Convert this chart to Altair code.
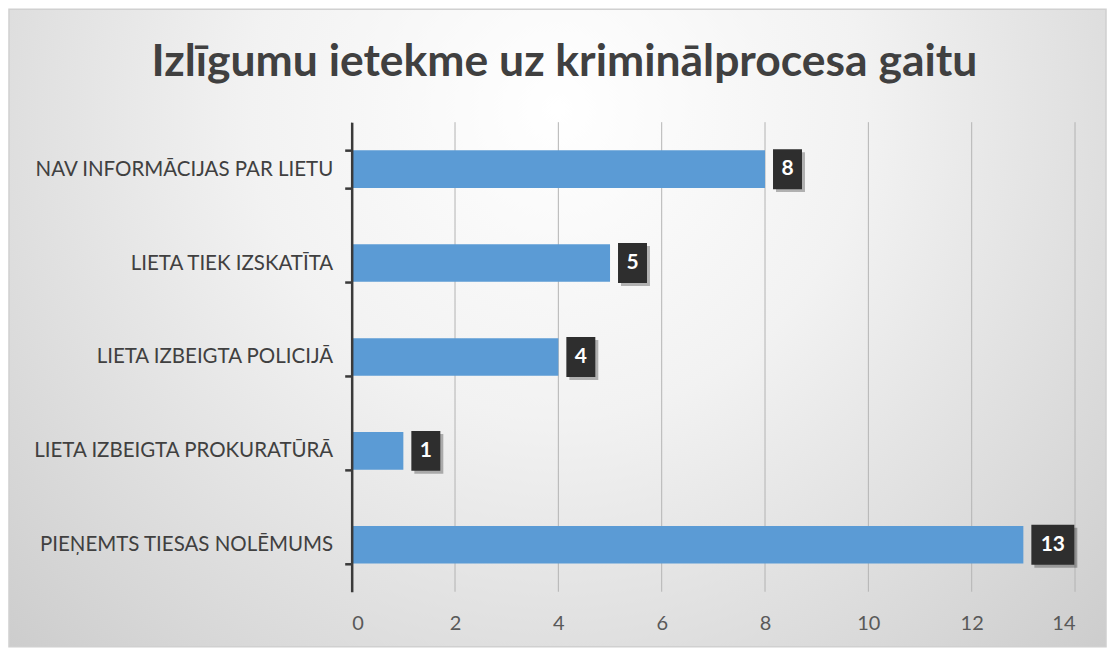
import altair as alt
import pandas as pd

# ---- data ----
categories = [
    "NAV INFORMĀCIJAS PAR LIETU",
    "LIETA TIEK IZSKATĪTA",
    "LIETA IZBEIGTA POLICIJĀ",
    "LIETA IZBEIGTA PROKURATŪRĀ",
    "PIEŅEMTS TIESAS NOLĒMUMS",
]
values = [8, 5, 4, 1, 13]
x_ticks = [0, 2, 4, 6, 8, 10, 12, 14]
title_text = "Izlīgumu ietekme uz kriminālprocesa gaitu"

df = pd.DataFrame({"cat": categories, "value": values})
df["label"] = df["value"].astype(str)
grid_df = pd.DataFrame({"tick": x_ticks})

W, H = 724, 470
PAD = {"left": 344, "top": 114, "right": 32, "bottom": 56}
FONT = "Lato"

y_sort = alt.Y("cat:N", sort=categories)
y_enc = alt.Y(
    "cat:N",
    sort=categories,
    scale=alt.Scale(paddingInner=0.6, paddingOuter=0.3),
    axis=alt.Axis(
        title=None,
        domainColor="#3a3a3a",
        domainWidth=2.5,
        tickColor="#3a3a3a",
        tickWidth=2.5,
        tickSize=7,
        tickBand="extent",
        labelFont=FONT,
        labelFontSize=20.5,
        labelColor="#404040",
        labelPadding=12,
        labelLimit=400,
        zindex=2,
    ),
)
x_scale = alt.Scale(domain=[0, 14], nice=False)
x_enc = alt.X(
    "value:Q",
    scale=x_scale,
    axis=alt.Axis(
        title=None,
        values=x_ticks,
        grid=False,
        domain=False,
        ticks=False,
        labelFont=FONT,
        labelFontSize=20,
        labelColor="#595959",
        labelPadding=22,
        zindex=2,
    ),
)

bg = alt.Chart(pd.DataFrame({"a": [0]})).mark_rect(
    fill=alt.RadialGradient(
        gradient="radial",
        stops=[
            alt.GradientStop(color="#ffffff", offset=0),
            alt.GradientStop(color="#f2f2f2", offset=0.35),
            alt.GradientStop(color="#c4c4c4", offset=1),
        ],
        x1=0.5, y1=0.3, r1=0,
        x2=0.5, y2=0.3, r2=0.8,
    ),
    stroke="#d0d0d0",
    strokeWidth=1.5,
).encode(
    x=alt.value(-PAD["left"] + 1),
    x2=alt.value(W + PAD["right"] - 1),
    y=alt.value(-PAD["top"] + 1),
    y2=alt.value(H + PAD["bottom"] - 1),
)

title = alt.Chart(pd.DataFrame({"t": [title_text]})).mark_text(
    font=FONT, fontWeight="bold", fontSize=44.5, color="#404040",
    align="center", baseline="middle",
).encode(x=alt.value(213), y=alt.value(-59), text="t:N")

grid = alt.Chart(grid_df).mark_rule(color="#b4b4b4", strokeWidth=1).encode(
    x=alt.X("tick:Q", scale=x_scale)
)

base = alt.Chart(df)
bars = base.mark_bar(color="#5b9bd5").encode(x=x_enc, y=y_enc)

narrow = base.transform_filter("length(datum.label) == 1")
wide = base.transform_filter("length(datum.label) > 1")


def label_layers(src, box_w):
    shadow = src.mark_bar(
        color="#000000", opacity=0.28, height=40, xOffset=11, x2Offset=11 + box_w, yOffset=3
    ).encode(x="value:Q", x2="value:Q", y=y_sort)
    box = src.mark_bar(
        color="#2e2e2e", height=40, xOffset=8, x2Offset=8 + box_w
    ).encode(x="value:Q", x2="value:Q", y=y_sort)
    txt = src.mark_text(
        color="white", font=FONT, fontWeight="bold", fontSize=21,
        align="center", baseline="middle", dx=8 + box_w / 2,
    ).encode(x="value:Q", y=y_sort, text="label:N")
    return [shadow, box, txt]


layers = [bg, grid, title, bars] + label_layers(narrow, 29) + label_layers(wide, 43)

chart = alt.layer(*layers).properties(
    width=W,
    height=H,
    padding=PAD,
    autosize=alt.AutoSizeParams(type="none"),
).configure_view(stroke=None).configure(background="#ffffff")

chart.save("out.html", embed_options={"renderer": "svg", "actions": False})
